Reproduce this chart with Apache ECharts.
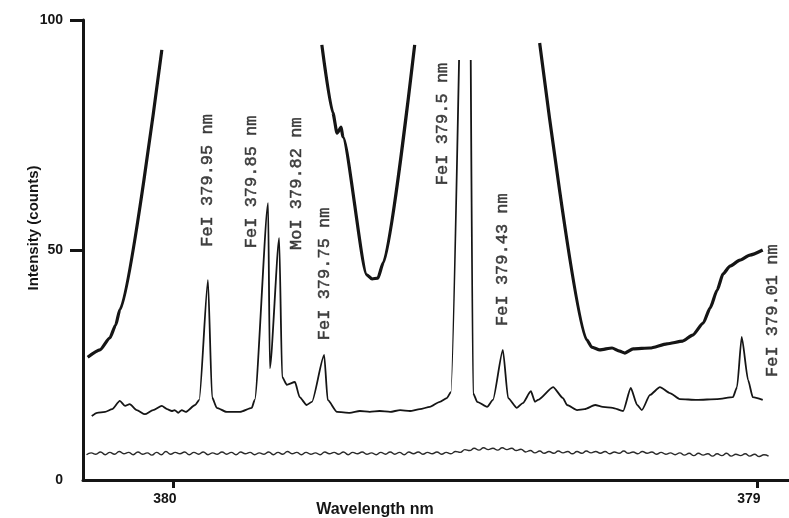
<!DOCTYPE html>
<html>
<head>
<meta charset="utf-8">
<title>Fe I / Mo I emission spectrum, 379–380 nm</title>
<script src="https://cdn.jsdelivr.net/npm/echarts@6/dist/echarts.min.js"></script>
<style>
  html, body { margin: 0; padding: 0; background: #ffffff; }
  #chart { width: 789px; height: 518px; }
</style>
</head>
<body>
<div id="chart"></div>
<script>
// Axis ticks
const wavelengthTicks = [380, 379];
const intensityLabels = [0, 50, 100];
const intensityTicks = [50, 100];

// Broad background trace (heavy line); null marks where the trace runs off scale
const broadTrace = [
  [380.146, 26.7], [380.125, 28.3], [380.108, 30.9], [380.098, 33.7], [380.091, 37.0],
  [380.019, 93.5],
  [379.900, null],
  [379.745, 94.6], [379.726, 79.8], [379.719, 75.4], [379.712, 76.7], [379.709, 74.6],
  [379.668, 44.6], [379.659, 43.7], [379.649, 43.9], [379.640, 47.2], [379.586, 94.6],
  [379.480, null],
  [379.372, 95.0], [379.291, 30.4], [379.283, 28.9], [379.269, 28.3], [379.248, 28.7],
  [379.235, 28.0], [379.226, 27.6], [379.212, 28.5], [379.183, 28.7], [379.154, 29.6],
  [379.127, 30.2], [379.110, 31.5], [379.092, 34.1], [379.080, 37.4], [379.068, 41.3],
  [379.058, 44.8], [379.046, 46.5], [379.029, 47.8], [379.012, 48.9], [378.990, 50.0]
];

// Emission line spectrum (thin line); the Fe I 379.5 nm line runs off scale
const lineSpectrum = [
  [380.139, 13.9], [380.130, 14.6], [380.116, 14.8], [380.104, 15.4], [380.091, 17.2],
  [380.082, 16.1], [380.074, 16.5], [380.062, 15.2], [380.048, 14.3], [380.034, 15.2],
  [380.019, 16.1], [380.010, 15.4], [380.002, 15.0], [379.997, 15.2], [379.991, 14.6],
  [379.985, 15.2], [379.978, 14.8], [379.962, 16.3], [379.955, 17.4], [379.940, 43.5],
  [379.933, 18.0], [379.925, 15.7], [379.908, 14.8], [379.885, 14.8], [379.865, 15.7],
  [379.860, 17.4], [379.837, 60.2], [379.834, 24.3], [379.818, 52.6], [379.813, 22.4],
  [379.805, 20.7], [379.791, 21.3], [379.783, 18.0], [379.771, 16.3], [379.762, 17.0],
  [379.741, 27.2], [379.735, 17.4], [379.719, 14.8], [379.697, 14.6], [379.680, 15.0],
  [379.663, 14.8], [379.646, 15.0], [379.628, 14.8], [379.611, 15.2], [379.594, 15.0],
  [379.577, 15.4], [379.560, 15.9], [379.543, 17.0], [379.531, 17.8], [379.524, 19.1],
  [379.510, 91.3], [379.500, null], [379.490, 91.3],
  [379.486, 18.9], [379.479, 17.0], [379.462, 15.9], [379.452, 17.4], [379.435, 28.3],
  [379.426, 17.8], [379.411, 15.7], [379.401, 16.7], [379.387, 19.3], [379.380, 17.0],
  [379.375, 17.4], [379.349, 20.2], [379.332, 17.8], [379.325, 16.3], [379.308, 15.2],
  [379.295, 15.4], [379.277, 16.3], [379.264, 15.9], [379.247, 15.7], [379.229, 15.0],
  [379.216, 20.0], [379.205, 16.3], [379.197, 15.2], [379.183, 18.5], [379.166, 20.2],
  [379.149, 18.9], [379.132, 17.6], [379.103, 17.4], [379.068, 17.6], [379.041, 18.0],
  [379.034, 20.2], [379.026, 31.1], [379.015, 21.7], [379.007, 18.0], [378.990, 17.4]
];

// Dark-current baseline, sampled every 0.008 nm from 380.148 nm
const baselineStart = 380.148;
const baselineStep = 0.008;
const baselineValues = [
  5.5, 5.9, 5.6, 6.1, 5.5, 6.0, 5.6, 6.2, 5.7, 6.0,
  5.5, 6.1, 5.6, 5.9, 5.4, 6.0, 5.5, 6.2, 5.6, 6.0,
  5.7, 6.1, 5.5, 6.0, 5.6, 6.1, 5.5, 5.9, 5.6, 6.1,
  5.6, 6.0, 5.5, 6.1, 5.7, 6.0, 5.5, 5.9, 5.6, 6.1,
  5.5, 6.0, 5.6, 6.2, 5.7, 6.0, 5.5, 6.0, 5.6, 5.9,
  5.5, 6.1, 5.7, 6.0, 5.6, 6.1, 5.5, 6.0, 5.7, 6.1,
  5.6, 5.9, 5.5, 6.0, 5.6, 6.1, 5.6, 6.0, 5.5, 6.1,
  5.7, 6.1, 5.6, 6.0, 5.7, 6.1, 5.6, 6.0, 5.7, 6.2,
  6.0, 6.6, 6.4, 6.9, 6.5, 7.0, 6.6, 6.9, 6.5, 7.0,
  6.6, 6.9, 6.4, 6.7, 6.1, 6.4, 5.9, 6.3, 5.8, 6.2,
  5.8, 6.3, 5.9, 6.2, 5.7, 6.2, 5.8, 6.3, 5.9, 6.2,
  5.8, 6.2, 5.7, 6.1, 5.8, 6.3, 5.8, 6.1, 5.7, 6.2,
  5.8, 6.1, 5.6, 6.0, 5.6, 5.9, 5.5, 5.9, 5.4, 5.8,
  5.3, 5.8, 5.4, 5.7, 5.2, 5.7, 5.3, 5.8, 5.2, 5.6,
  5.3, 5.7, 5.2, 5.6, 5.1, 5.5, 5.2
];

// Line identifications: text and the foot of each vertical label
const lineNames = [
  'FeI 379.95 nm', 'FeI 379.85 nm', 'MoI 379.82 nm', 'FeI 379.75 nm',
  'FeI 379.5 nm', 'FeI 379.43 nm', 'FeI 379.01 nm'
];
const lineLabelAnchors = [
  [379.940, 50.7], [379.865, 50.4], [379.788, 50.0], [379.740, 30.4],
  [379.539, 64.1], [379.435, 33.5], [378.973, 22.4]
];

const baselineTrace = baselineValues.map((v, i) =>
  [+(baselineStart - i * baselineStep).toFixed(3), v]);

const labelPoints = lineNames.map((name, i) => ({
  value: lineLabelAnchors[i],
  name: name
}));

const ink = '#151515';
const axisFont = "'Liberation Sans Narrow', 'Liberation Sans', Arial, sans-serif";

const chart = echarts.init(document.getElementById('chart'), null, { renderer: 'canvas' });

chart.setOption({
  animation: false,
  backgroundColor: '#ffffff',
  grid: { left: 83, right: 0, top: 20, bottom: 38, outerBoundsMode: 'none', containLabel: false },
  xAxis: {
    type: 'value',
    inverse: true,
    min: 378.945,
    max: 380.154,
    name: 'Wavelength nm',
    nameLocation: 'middle',
    nameGap: 22,
    nameMoveOverlap: false,
    nameTextStyle: {
      fontFamily: axisFont, fontSize: 16, fontWeight: 'bold', color: ink,
      padding: [0, 122, 0, 0]
    },
    axisLine: { show: true, lineStyle: { color: ink, width: 3 } },
    axisTick: {
      show: true, length: 8, inside: false,
      customValues: wavelengthTicks,
      lineStyle: { color: ink, width: 3 }
    },
    axisLabel: {
      customValues: wavelengthTicks,
      formatter: v => String(Math.round(v)),
      fontFamily: axisFont, fontSize: 14, fontWeight: 'bold', color: ink,
      margin: 12,
      padding: [0, 16, 0, 0]
    },
    splitLine: { show: false }
  },
  yAxis: {
    type: 'value',
    min: 0,
    max: 100,
    name: 'Intensity (counts)',
    nameLocation: 'middle',
    nameRotate: 90,
    nameGap: 42,
    nameMoveOverlap: false,
    nameTextStyle: {
      fontFamily: axisFont, fontSize: 15, fontWeight: 'bold', color: ink,
      padding: [0, 0, 0, 44]
    },
    axisLine: { show: true, lineStyle: { color: ink, width: 3 } },
    axisTick: {
      show: true, length: 13, inside: false,
      customValues: intensityTicks,
      lineStyle: { color: ink, width: 3 }
    },
    axisLabel: {
      customValues: intensityLabels,
      fontFamily: axisFont, fontSize: 14, fontWeight: 'bold', color: ink,
      margin: 20
    },
    splitLine: { show: false }
  },
  series: [
    {
      name: 'Background',
      type: 'line',
      data: broadTrace,
      showSymbol: false,
      connectNulls: false,
      smooth: 0.2,
      smoothMonotone: 'x',
      lineStyle: { color: ink, width: 3.2 },
      z: 3
    },
    {
      name: 'Spectrum',
      type: 'line',
      data: lineSpectrum,
      showSymbol: false,
      connectNulls: false,
      smooth: 0.2,
      smoothMonotone: 'x',
      lineStyle: { color: ink, width: 1.8 },
      z: 4
    },
    {
      name: 'Baseline',
      type: 'line',
      data: baselineTrace,
      showSymbol: false,
      smooth: 0.5,
      lineStyle: { color: '#2a2a2a', width: 1.4 },
      z: 2
    },
    {
      name: 'Line identifications',
      type: 'scatter',
      data: labelPoints,
      symbolSize: 0,
      silent: true,
      label: {
        show: true,
        position: 'inside',
        rotate: 90,
        align: 'left',
        verticalAlign: 'middle',
        formatter: p => p.name,
        fontFamily: "'Liberation Mono', 'DejaVu Sans Mono', monospace",
        fontSize: 17,
        color: ink,
        textBorderColor: ink,
        textBorderWidth: 0.5
      },
      z: 5
    }
  ]
});
</script>
</body>
</html>
